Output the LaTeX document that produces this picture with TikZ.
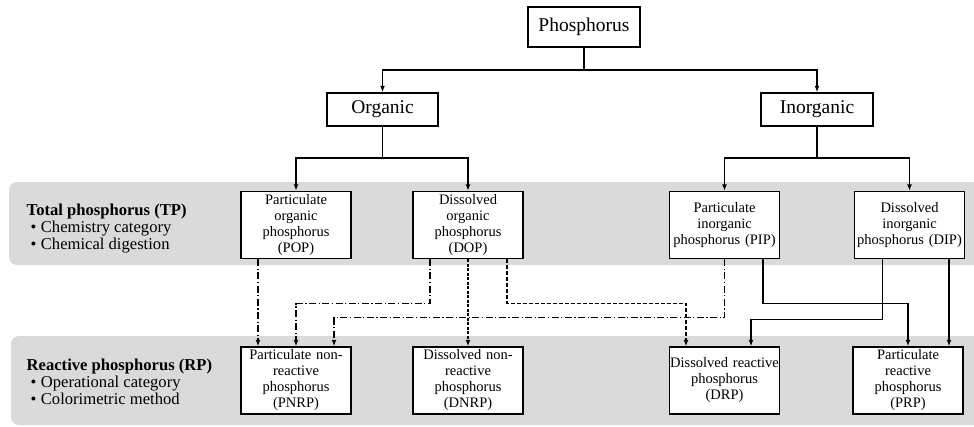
\documentclass[tikz,border=0pt]{standalone}
\usepackage{fontspec}
\setmainfont{Liberation Serif}
\usetikzlibrary{arrows.meta}
\definecolor{bandgray}{RGB}{218,218,218}

\begin{document}
\begin{tikzpicture}[x=1pt,y=-1pt,line width=1.4pt,>={Latex[length=6.5pt,width=5pt]},
  box/.style={draw,fill=white,align=center,text width=110pt,inner sep=0pt,minimum height=67pt,font=\fontsize{14.5}{16}\selectfont},
  topbox/.style={draw,fill=white,minimum width=112pt,minimum height=33pt,inner sep=0pt,font=\fontsize{19.5}{22}\selectfont},
  band/.style={fill=bandgray,rounded corners=8pt},
  lab/.style={anchor=west,align=left,inner sep=0pt,font=\fontsize{16.6}{17}\selectfont},
  dashdot/.style={dash pattern=on 7pt off 2.5pt on 1.2pt off 2.5pt},
  fine/.style={dash pattern=on 3pt off 1.5pt},
  dashline/.style={dash pattern=on 4pt off 2pt}]

\useasboundingbox (0,0) rectangle (974,426);

\fill[band] (9,182) rectangle (995,265);
\fill[band] (11,336) rectangle (995,425);

\node[lab] (tp) at (26,228.5) {\textbf{Total phosphorus (TP)}\\\hspace{4pt}\textbullet\hspace{4.4pt}Chemistry category\\\hspace{4pt}\textbullet\hspace{4.4pt}Chemical digestion};
\node[lab] (rp) at (26,382) {\textbf{Reactive phosphorus (RP)}\\\hspace{4pt}\textbullet\hspace{4.4pt}Operational category\\\hspace{4pt}\textbullet\hspace{4.4pt}Colorimetric method};

\node[topbox,minimum height=40pt] (phos) at (584,27) {Phosphorus};
\node[topbox,minimum width=111pt] (org) at (382.5,109.5) {Organic};
\node[topbox] (inorg) at (817,109.5) {Inorganic};

\node[box] (pop) at (296,225) {Particulate\\organic\\phosphorus\\(POP)};
\node[box] (dop) at (468,225) {Dissolved\\organic\\phosphorus\\(DOP)};
\node[box] (pip) at (724.5,225) {Particulate\\inorganic\\phosphorus (PIP)};
\node[box] (dip) at (909.5,225) {Dissolved\\inorganic\\phosphorus (DIP)};

\node[box] (pnrp) at (296,380.5) {Particulate non-\\reactive\\phosphorus\\(PNRP)};
\node[box] (dnrp) at (468,380.5) {Dissolved non-\\reactive\\phosphorus\\(DNRP)};
\node[box] (drp) at (724.5,380.5) {Dissolved reactive\\phosphorus\\(DRP)};
\node[box] (prp) at (908,380.5) {Particulate\\reactive\\phosphorus\\(PRP)};

\coordinate (pj) at (584,70);
\coordinate (oj) at (382.5,158);
\coordinate (ij) at (817,158);

\draw (phos) -- (pj);
\draw[->] (pj) -| (org);
\draw[->] (pj) -| (inorg);
\draw (org) -- (oj);
\draw[->] (oj) -| (pop);
\draw[->] (oj) -| (dop);
\draw (inorg) -- (ij);
\draw[->] (ij) -| (pip);
\draw[->] (ij) -| (dip);

\draw[dashdot,->] ([xshift=-38pt]pop.south) -- ([xshift=-38pt]pnrp.north);
\draw[dashdot,->] ([xshift=-38pt]dop.south) -- ++(0,44.5) -| (pnrp.north);
\draw[dashdot,->] (pip.south) -- ++(0,58.5) -| ([xshift=38pt]pnrp.north);
\draw[fine,->] (dop) -- (dnrp);
\draw[dashline,->] ([xshift=39pt]dop.south) -- ++(0,44.5) -| ([xshift=-38.5pt]drp.north);

\draw[->] ([xshift=38.5pt]pip.south) -- ++(0,44.5) -| (prp.north);
\draw[->] ([xshift=-27pt]dip.south) -- ++(0,60.5) -| ([xshift=26.5pt]drp.north);
\draw[->] ([xshift=39.5pt]dip.south) -- ([xshift=39.5pt]dip.south |- prp.north);

\end{tikzpicture}
\end{document}
